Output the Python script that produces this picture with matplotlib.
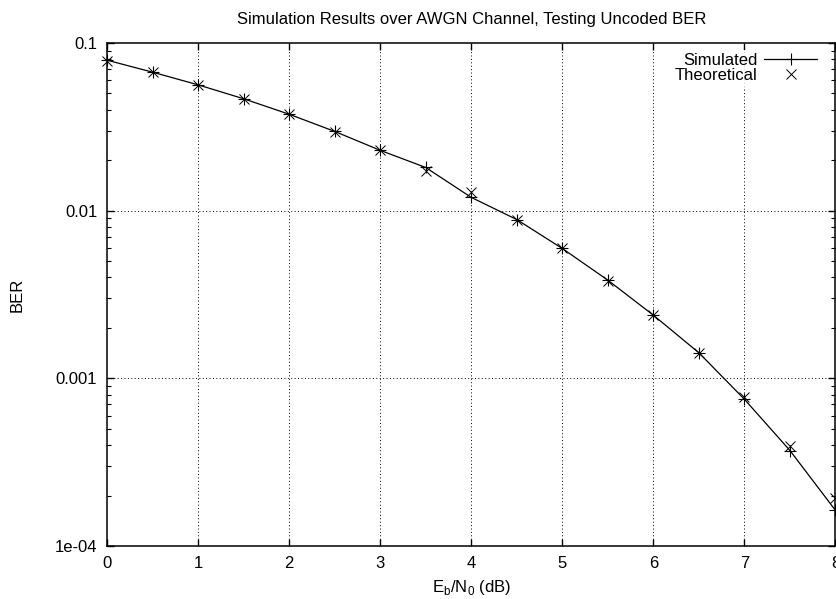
import matplotlib
matplotlib.use("Agg")
import matplotlib.pyplot as plt
from matplotlib.ticker import LogLocator, FixedLocator, NullFormatter

plt.rcParams['font.family'] = ['Liberation Sans', 'DejaVu Sans']
plt.rcParams['mathtext.fontset'] = 'custom'
plt.rcParams['mathtext.rm'] = 'Liberation Sans'

ebn0 = [0, 0.5, 1, 1.5, 2, 2.5, 3, 3.5, 4, 4.5, 5, 5.5, 6, 6.5, 7, 7.5, 8]
ber_sim = [0.0790, 0.0670, 0.0563, 0.0465, 0.0376, 0.0297, 0.0229, 0.0181, 0.0120,
           0.00885, 0.00595, 0.00385, 0.00238, 0.00142, 0.00075, 0.000371, 0.000163]
ber_theory = [0.0786, 0.0671, 0.0563, 0.0464, 0.0375, 0.0296, 0.0229, 0.0173, 0.0129,
              0.00883, 0.00595, 0.00383, 0.00239, 0.00142, 0.00077, 0.000397, 0.000193]
xticks = [0, 1, 2, 3, 4, 5, 6, 7, 8]
yticks = [1e-4, 1e-3, 1e-2, 1e-1]
ytick_labels = ['1e-04', '0.001', '0.01', '0.1']

fig = plt.figure(figsize=(8.36, 5.99), dpi=100)
ax = fig.add_axes([107/836, 1 - 546/599, 1 - 107/836 - 0.0006, (546 - 43)/599])

ax.plot(ebn0, ber_sim, color='black', lw=0.9, marker='+', ms=8, mew=0.8,
        label='Simulated', zorder=3, clip_on=False)
ax.plot(ebn0, ber_theory, color='black', lw=0, marker='x', ms=6.5, mew=0.7,
        label='Theoretical', zorder=3, clip_on=False)

ax.set_yscale('log')
ax.set_xlim(0, 8)
ax.set_ylim(1e-4, 0.1)

ax.xaxis.set_major_locator(FixedLocator(xticks))
ax.set_xticklabels([str(t) for t in xticks])
ax.yaxis.set_major_locator(FixedLocator(yticks))
ax.set_yticklabels(ytick_labels)
ax.yaxis.set_minor_locator(LogLocator(base=10, subs=range(2, 10)))
ax.yaxis.set_minor_formatter(NullFormatter())

ax.tick_params(which='major', direction='in', length=5, width=1.0, top=True, right=True,
               labelsize=12, pad=7)
ax.tick_params(which='minor', direction='in', length=3, width=0.8, left=True, right=True)
for s in ax.spines.values():
    s.set_linewidth(1.1)

# grid lines (dotted) at interior major ticks
for xv in xticks[1:-1]:
    ax.axvline(xv, color='black', lw=0.7, ls=(0, (1, 2.5)), zorder=1)
for yv in yticks[1:-1]:
    ax.axhline(yv, color='black', lw=0.7, ls=(0, (1, 2.5)), zorder=1)

leg = ax.legend(loc='upper right', bbox_to_anchor=(1 - 5/729, 1 + 3/503),
                markerfirst=False, frameon=True, fontsize=12,
                handlelength=3.2, handletextpad=0.4, labelspacing=0.0,
                borderpad=0.2, borderaxespad=0.6)
leg.get_frame().set_facecolor('white')
leg.get_frame().set_edgecolor('none')
leg.set_zorder(1.5)

ax.set_title('Simulation Results over AWGN Channel, Testing Uncoded BER', fontsize=12, pad=14)
ax.set_xlabel(r'E$_\mathregular{b}$/N$_\mathregular{0}$ (dB)', fontsize=12, labelpad=5)
ax.set_ylabel('BER', fontsize=12, labelpad=22)

fig.savefig('out.png', dpi=100)
